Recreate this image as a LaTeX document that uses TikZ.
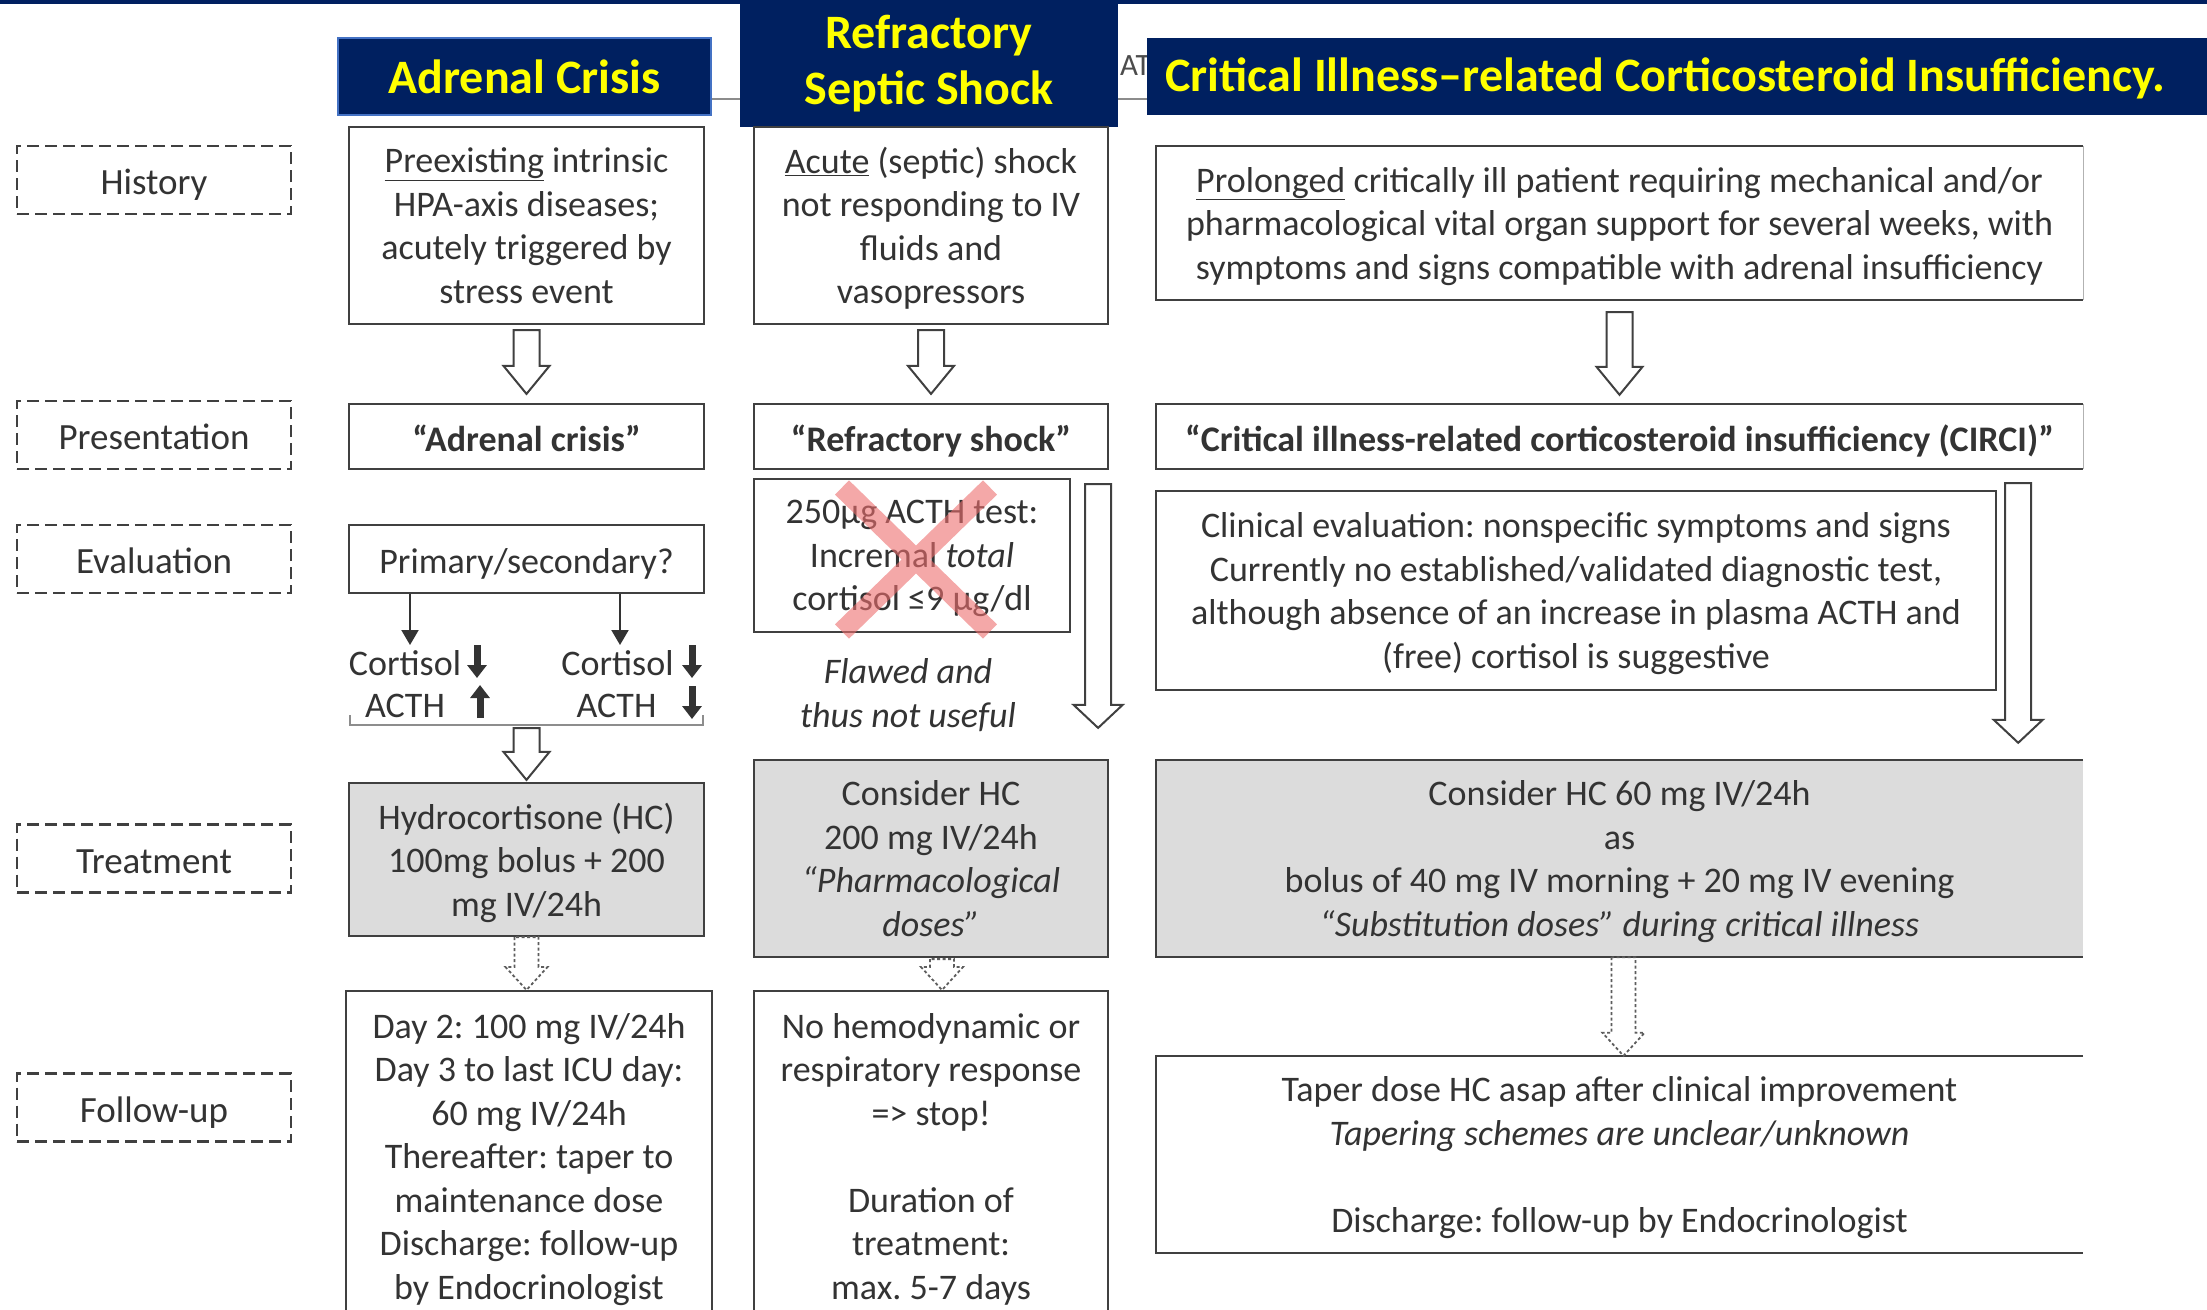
\documentclass[tikz,border=0pt]{standalone}
\usepackage{fontspec}
\setmainfont{Carlito}
\usetikzlibrary{arrows.meta,calc}
\frenchspacing

\definecolor{navy}{HTML}{002060}
\definecolor{navyrim}{HTML}{4472C4}
\definecolor{hdryellow}{HTML}{FFFF00}
\definecolor{boxgray}{HTML}{DCDCDC}
\definecolor{rim}{HTML}{404040}
\definecolor{ink}{HTML}{333333}
\definecolor{crossred}{HTML}{EE6E6E}

% height strut for one-line boxes
\newcommand\boxstrut{\rule{0pt}{29.5pt}}

\tikzset{
  txt/.style={font=\fontsize{36}{43.5}\selectfont, text=ink, align=center, inner sep=0pt,
    text depth=0pt, execute at end node=\boxstrut},
  strong/.style={font=\fontsize{36}{43.5}\selectfont\bfseries},
  slanted/.style={font=\fontsize{36}{43.5}\selectfont\itshape},
  box/.style={txt, draw=rim, line width=2.2pt},
  graybox/.style={box, fill=boxgray},
  rowlabel/.style={txt, font=\fontsize{37}{43.5}\selectfont, draw=rim, line width=2.2pt,
    dash pattern=on 12pt off 6pt, minimum width=274pt, minimum height=68pt},
  header/.style={fill=navy, text=hdryellow, align=center,
    font=\fontsize{48}{56}\selectfont\bfseries},
  % outlined block arrow: half shaft, half head, head length
  hollow/.style n args={3}{draw=rim, line width=2pt, line join=miter,
    to path={($(\tikztostart)+(-#1,0)$) -- ($(\tikztotarget)+(-#1,-#3)$)
      -- ($(\tikztotarget)+(-#2,-#3)$) -- (\tikztotarget)
      -- ($(\tikztotarget)+(#2,-#3)$) -- ($(\tikztotarget)+(#1,-#3)$)
      -- ($(\tikztostart)+(#1,0)$) -- cycle}},
  solidarrow/.style={hollow={13}{23}{28}},
  longarrow/.style={hollow={13}{24.5}{23}},
  dotarrow/.style={hollow={12}{21}{23}, draw=rim!85, line width=1.8pt,
    dash pattern=on 3pt off 2.5pt},
  thinarrow/.style={draw=ink, line width=2pt, -{Triangle[length=15pt,width=17pt]}},
  fatarrow/.style={draw=ink, line width=7pt, -{Triangle[length=13pt,width=19pt]}},
}

\begin{document}
\begin{tikzpicture}[x=1pt,y=-1pt]
\useasboundingbox (0,0) rectangle (2207,1309);
\clip (0,0) rectangle (2207,1309);
\fill[white] (0,0) rectangle (2207,1309);

% title strip behind the headers
\draw[black!45, line width=2pt] (700,99) -- (1160,99);
\node[anchor=west, text=black!70, font=\fontsize{31}{36}\selectfont, inner sep=0pt] (frag) at (1120,66) {AT};

% headers
\node[header, draw=navyrim, line width=1.5pt, minimum width=373pt, minimum height=77pt] (hAC) at (524.5,76.5) {Adrenal Crisis};
\node[header, minimum width=378pt, minimum height=127pt] (hRS) at (929,63.5) {Refractory\\Septic Shock};
\node[header, anchor=west, text depth=3pt, minimum width=1036pt, minimum height=77pt] (hCI) at (1147,76.5) {Critical Illness–related Corticosteroid Insufficiency.};
\fill[navy] (hCI.north east) rectangle ++(30,77);
\fill[navy] (0,0) rectangle (2207,3.5);

% row labels
\node[rowlabel] (lHist) at (154,180) {History};
\node[rowlabel] (lPres) at (154,435) {Presentation};
\node[rowlabel] (lEval) at (154,559) {Evaluation};
\node[rowlabel] (lTreat) at (154,858.5) {Treatment};
\node[rowlabel] (lFollow) at (154,1107.5) {Follow-up};

% adrenal crisis
\node[box, minimum width=355pt, minimum height=197pt] (a1) at (526.5,225.5) {\underline{Preexisting} intrinsic\\HPA-axis diseases;\\acutely triggered by\\stress event};
\node[box, strong, minimum width=355pt, minimum height=65pt] (a2) at (526.5,436.5) {“Adrenal crisis”};
\node[box, minimum width=355pt, minimum height=68pt] (a3) at (526.5,559) {Primary/secondary?};
\coordinate (tipL) at (410,645);
\coordinate (tipR) at (620,645);
\draw[thinarrow] (a3.south -| tipL) -- (tipL);
\draw[thinarrow] (a3.south -| tipR) -- (tipR);
\node[txt, anchor=base] (corL) at (405,675) {Cortisol};
\node[txt, anchor=base] (acthL) at (405,717) {ACTH};
\node[txt, anchor=base] (corR) at (617.5,675) {Cortisol};
\node[txt, anchor=base] (acthR) at (616.5,717) {ACTH};
\draw[fatarrow] (477,645) -- (477,678);
\draw[fatarrow] (480,718) -- (480,685);
\draw[fatarrow] (692,645) -- (692,678);
\draw[fatarrow] (692,686) -- (692,719);
\coordinate (brk) at (526.5,725);
\draw[rim!60, line width=1.6pt] (350,715) -- (350,725) -- (703,725) -- (703,715);
\node[graybox, minimum width=355pt, minimum height=153pt] (a4) at (526.5,859.5) {Hydrocortisone (HC)\\100mg bolus + 200\\mg IV/24h};
\node[box, minimum width=366pt, anchor=north, inner ysep=22pt] (a5) at (529,990) {Day 2: 100 mg IV/24h\\Day 3 to last ICU day:\\60 mg IV/24h\\Thereafter: taper to\\maintenance dose\\Discharge: follow-up\\by Endocrinologist};

% refractory septic shock
\node[box, minimum width=354pt, minimum height=197pt] (b1) at (931,225.5) {\underline{Acute} (septic) shock\\not responding to IV\\fluids and\\vasopressors};
\node[box, strong, minimum width=354pt, minimum height=65pt] (b2) at (931,436.5) {“Refractory shock”};
\node[box, minimum width=316pt, minimum height=153pt] (b3) at (912,555.5) {250µg ACTH test:\\Incremal \textit{total}\\cortisol ≤9 µg/dl};
\draw[crossred, opacity=.6, line width=20pt] ($(b3.center)+(-70,-68)$) -- ($(b3.center)+(78,76)$)
  ($(b3.center)+(78,-68)$) -- ($(b3.center)+(-70,76)$);
\node[txt, slanted] (flaw) at (908,693) {Flawed and\\thus not useful};
\node[graybox, minimum width=354pt, minimum height=197pt] (b4) at (931,858.5) {Consider HC\\200 mg IV/24h\\\textit{“Pharmacological}\\\textit{doses”}};
\node[box, minimum width=354pt, anchor=north, inner ysep=22pt] (b5) at (931,990) {No hemodynamic or\\respiratory response\\=> stop!\\[43.5pt]Duration of\\treatment:\\max. 5-7 days};

% CIRCI
\node[txt, minimum width=927pt, minimum height=154pt] (c1) at (1619.5,223) {\underline{Prolonged} critically ill patient requiring mechanical and/or\\pharmacological vital organ support for several weeks, with\\symptoms and signs compatible with adrenal insufficiency};
\node[txt, strong, minimum width=927pt, minimum height=65pt] (c2) at (1619.5,436.5) {“Critical illness-related corticosteroid insufficiency (CIRCI)”};
\node[box, minimum width=840pt, minimum height=199pt] (c3) at (1576,590.5) {Clinical evaluation: nonspecific symptoms and signs\\Currently no established/validated diagnostic test,\\although absence of an increase in plasma ACTH and\\(free) cortisol is suggestive};
\node[txt, fill=boxgray, minimum width=927pt, minimum height=197pt] (c4) at (1619.5,858.5) {Consider HC 60 mg IV/24h\\as\\bolus of 40 mg IV morning + 20 mg IV evening\\\textit{“Substitution doses” during critical illness}};
\node[txt, minimum width=927pt, minimum height=197pt] (c5) at (1619.5,1154.5) {Taper dose HC asap after clinical improvement\\\textit{Tapering schemes are unclear/unknown}\\[43.5pt]Discharge: follow-up by Endocrinologist};
\foreach \n in {c1,c2,c4,c5}
  \draw[rim, line width=2.2pt] (\n.north east) -- (\n.north west) -- (\n.south west) -- (\n.south east);
\foreach \n in {c1,c2}
  \draw[rim!40, line width=1pt] (\n.north east) -- (\n.south east);

% block arrows
\draw[solidarrow] ($(a1.south)+(0,5)$) to ($(a2.north)+(0,-9)$);
\draw[solidarrow] ($(b1.south)+(0,5)$) to ($(b2.north)+(0,-9)$);
\draw[solidarrow] ($(c1.south)+(0,12)$) to ($(c2.north)+(0,-9)$);
\draw[solidarrow] ($(brk)+(0,3)$) to ($(a4.north)+(0,-2)$);
\draw[longarrow] ($(b2.south east)+(-11,14)$) to ($(b4.north east)+(-11,-31)$);
\draw[longarrow] ($(c2.south east)+(-65,14)$) to ($(c4.north east)+(-65,-17)$);
\draw[dotarrow] (a4.south) to (a4.south |- a5.north);
\draw[dotarrow] ($(b4.south)+(11,1)$) to ($(b5.north)+(11,0)$);
\draw[dotarrow] ($(c4.south)+(4,0)$) to ($(c5.north)+(4,0)$);
\end{tikzpicture}
\end{document}
